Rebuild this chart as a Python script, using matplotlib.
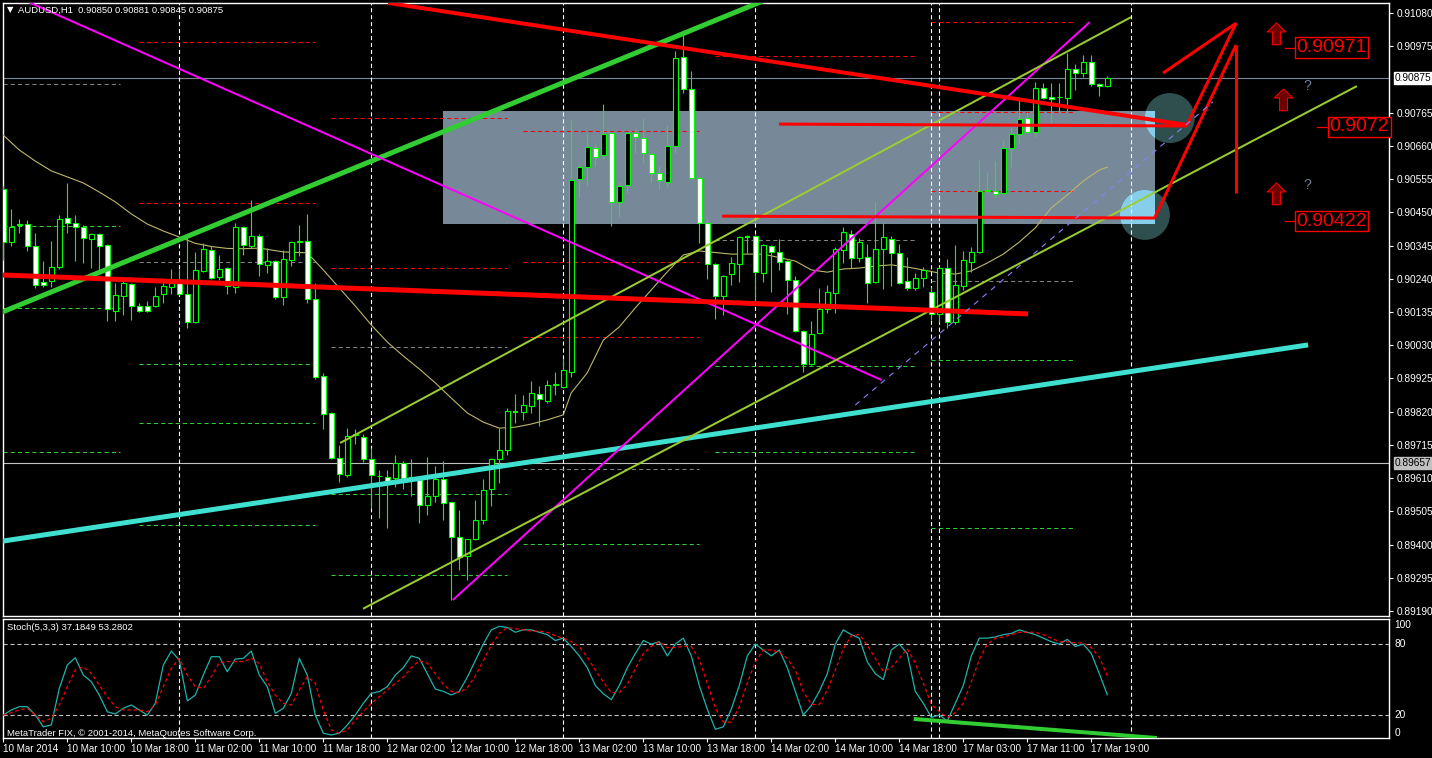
import matplotlib
matplotlib.use('Agg')
import matplotlib.pyplot as plt
from matplotlib.patches import Rectangle, Ellipse
from matplotlib.collections import LineCollection
from matplotlib.path import Path
from matplotlib import font_manager as fm
import numpy as np

plt.rcParams['font.family'] = ['Liberation Sans', 'DejaVu Sans']
plt.rcParams['lines.scale_dashes'] = False

W, H, DPI = 1432, 758, 100

# ---------------- data ----------------
opens = [0.90524, 0.90356, 0.90410, 0.90413, 0.90344, 0.90230, 0.90233, 0.90277, 0.90432, 0.90416,
         0.90404, 0.90366, 0.90382, 0.90347, 0.90138, 0.90186, 0.90224, 0.90154, 0.90154, 0.90154,
         0.90192, 0.90214, 0.90233, 0.90192, 0.90104, 0.90265, 0.90331, 0.90246, 0.90274, 0.90214,
         0.90404, 0.90344, 0.90375, 0.90284, 0.90296, 0.90183, 0.90299, 0.90356, 0.90359, 0.90176,
         0.89933, 0.89816, 0.89674, 0.89620, 0.89746, 0.89740, 0.89670, 0.89618, 0.89614, 0.89610,
         0.89658, 0.89610, 0.89604, 0.89525, 0.89554, 0.89607, 0.89535, 0.89424, 0.89364, 0.89418,
         0.89478, 0.89576, 0.89670, 0.89699, 0.89819, 0.89819, 0.89838, 0.89876, 0.89854, 0.89904,
         0.89898, 0.89946, 0.90555, 0.90593, 0.90653, 0.90631, 0.90701, 0.90483, 0.90536, 0.90701,
         0.90685, 0.90634, 0.90574, 0.90546, 0.90660, 0.90941, 0.90840, 0.90559, 0.90416, 0.90287,
         0.90186, 0.90255, 0.90287, 0.90373, 0.90375, 0.90258, 0.90344, 0.90325, 0.90296, 0.90236,
         0.90075, 0.89971, 0.90069, 0.90145, 0.90195, 0.90331, 0.90382, 0.90306, 0.90309, 0.90230,
         0.90334, 0.90366, 0.90321, 0.90233, 0.90211, 0.90243, 0.90198, 0.90129, 0.90274, 0.90104,
         0.90217, 0.90293, 0.90325, 0.90517, 0.90517, 0.90511, 0.90653, 0.90698, 0.90748, 0.90704,
         0.90843, 0.90814, 0.90813, 0.90811, 0.90903, 0.90890, 0.90925, 0.90856, 0.90850]
highs = [0.90533, 0.90461, 0.90429, 0.90426, 0.90385, 0.90296, 0.90359, 0.90442, 0.90543, 0.90442,
         0.90410, 0.90384, 0.90385, 0.90350, 0.90227, 0.90246, 0.90227, 0.90164, 0.90170, 0.90214,
         0.90239, 0.90271, 0.90271, 0.90369, 0.90325, 0.90353, 0.90344, 0.90315, 0.90277, 0.90416,
         0.90407, 0.90489, 0.90382, 0.90337, 0.90299, 0.90331, 0.90359, 0.90410, 0.90445, 0.90227,
         0.89942, 0.89820, 0.89715, 0.89769, 0.89765, 0.89750, 0.89705, 0.89636, 0.89636, 0.89683,
         0.89664, 0.89670, 0.89617, 0.89677, 0.89648, 0.89664, 0.89535, 0.89509, 0.89418, 0.89541,
         0.89607, 0.89672, 0.89768, 0.89832, 0.89876, 0.89873, 0.89917, 0.89901, 0.89920, 0.89946,
         0.89987, 0.90742, 0.90606, 0.90701, 0.90666, 0.90792, 0.90703, 0.90546, 0.90703, 0.90713,
         0.90748, 0.90636, 0.90596, 0.90726, 0.90960, 0.91010, 0.90897, 0.90562, 0.90432, 0.90290,
         0.90252, 0.90309, 0.90375, 0.90378, 0.90378, 0.90350, 0.90347, 0.90366, 0.90299, 0.90249,
         0.90078, 0.90107, 0.90211, 0.90220, 0.90340, 0.90404, 0.90394, 0.90369, 0.90350, 0.90483,
         0.90420, 0.90375, 0.90350, 0.90309, 0.90258, 0.90277, 0.90214, 0.90277, 0.90303, 0.90347,
         0.90328, 0.90340, 0.90615, 0.90577, 0.90612, 0.90679, 0.90720, 0.90811, 0.90767, 0.90862,
         0.90859, 0.90859, 0.90859, 0.90954, 0.90919, 0.90947, 0.90947, 0.90859, 0.90881]
lows = [0.90299, 0.90344, 0.90385, 0.90328, 0.90211, 0.90214, 0.90214, 0.90270, 0.90385, 0.90296,
        0.90290, 0.90274, 0.90268, 0.90107, 0.90107, 0.90126, 0.90110, 0.90135, 0.90135, 0.90151,
        0.90164, 0.90192, 0.90190, 0.90085, 0.90100, 0.90262, 0.90239, 0.90236, 0.90192, 0.90195,
        0.90315, 0.90337, 0.90249, 0.90258, 0.90176, 0.90157, 0.90280, 0.90312, 0.90164, 0.89923,
        0.89765, 0.89670, 0.89598, 0.89614, 0.89718, 0.89661, 0.89516, 0.89484, 0.89452, 0.89582,
        0.89576, 0.89554, 0.89468, 0.89494, 0.89535, 0.89478, 0.89225, 0.89320, 0.89288, 0.89415,
        0.89465, 0.89522, 0.89595, 0.89683, 0.89784, 0.89794, 0.89816, 0.89775, 0.89848, 0.89873,
        0.89895, 0.89930, 0.90499, 0.90533, 0.90596, 0.90619, 0.90407, 0.90435, 0.90511, 0.90638,
        0.90606, 0.90546, 0.90524, 0.90530, 0.90638, 0.90827, 0.90555, 0.90353, 0.90239, 0.90113,
        0.90126, 0.90220, 0.90230, 0.90321, 0.90167, 0.90230, 0.90198, 0.90268, 0.90129, 0.90072,
        0.89946, 0.89968, 0.90066, 0.90132, 0.90132, 0.90290, 0.90274, 0.90293, 0.90164, 0.90227,
        0.90208, 0.90217, 0.90224, 0.90205, 0.90205, 0.90214, 0.90110, 0.90104, 0.90085, 0.90097,
        0.90205, 0.90261, 0.90322, 0.90511, 0.90495, 0.90508, 0.90593, 0.90669, 0.90701, 0.90688,
        0.90808, 0.90732, 0.90767, 0.90767, 0.90837, 0.90878, 0.90849, 0.90818, 0.90845]
closes = [0.90356, 0.90404, 0.90413, 0.90344, 0.90220, 0.90220, 0.90277, 0.90429, 0.90416, 0.90404,
          0.90369, 0.90382, 0.90344, 0.90145, 0.90189, 0.90227, 0.90154, 0.90138, 0.90138, 0.90186,
          0.90217, 0.90227, 0.90192, 0.90104, 0.90268, 0.90334, 0.90243, 0.90271, 0.90217, 0.90404,
          0.90347, 0.90375, 0.90287, 0.90296, 0.90183, 0.90303, 0.90356, 0.90359, 0.90176, 0.89930,
          0.89813, 0.89674, 0.89623, 0.89743, 0.89748, 0.89670, 0.89620, 0.89616, 0.89601, 0.89658,
          0.89610, 0.89612, 0.89525, 0.89554, 0.89607, 0.89532, 0.89424, 0.89361, 0.89418, 0.89478,
          0.89573, 0.89670, 0.89699, 0.89822, 0.89821, 0.89841, 0.89879, 0.89860, 0.89904, 0.89906,
          0.89952, 0.90552, 0.90593, 0.90657, 0.90625, 0.90698, 0.90483, 0.90533, 0.90701, 0.90688,
          0.90638, 0.90574, 0.90552, 0.90660, 0.90938, 0.90840, 0.90559, 0.90416, 0.90287, 0.90186,
          0.90249, 0.90290, 0.90372, 0.90374, 0.90261, 0.90347, 0.90325, 0.90293, 0.90236, 0.90075,
          0.89971, 0.90066, 0.90145, 0.90198, 0.90334, 0.90388, 0.90306, 0.90356, 0.90227, 0.90334,
          0.90372, 0.90321, 0.90227, 0.90211, 0.90243, 0.90268, 0.90129, 0.90274, 0.90104, 0.90220,
          0.90299, 0.90325, 0.90517, 0.90521, 0.90508, 0.90653, 0.90698, 0.90745, 0.90704, 0.90843,
          0.90811, 0.90808, 0.90815, 0.90903, 0.90890, 0.90925, 0.90856, 0.90849, 0.90875]

ma_bars = [0, 2, 4, 6, 8, 10, 12, 14, 16, 18, 20, 22, 24, 26, 28, 30, 32, 35, 38, 40,
           42, 44, 46, 48, 50, 52, 54, 56, 58, 60, 62, 64, 66, 68, 70, 71, 72, 73, 75, 77,
           79, 81, 83, 85, 87, 89, 91, 95, 99, 101, 103, 105, 107, 109, 111, 113, 115, 117, 119, 121,
           123, 125, 127, 129, 131, 133, 135, 137, 138]
ma_vals = [0.90694, 0.90647, 0.90612, 0.90581, 0.90562, 0.90543, 0.90514, 0.90483, 0.90445, 0.90413,
           0.90391, 0.90372, 0.90352, 0.90342, 0.90336, 0.90335, 0.90337, 0.90325, 0.90322, 0.90268,
           0.90211, 0.90154, 0.90094, 0.90040, 0.89996, 0.89955, 0.89911, 0.89863, 0.89816, 0.89787,
           0.89768, 0.89771, 0.89781, 0.89794, 0.89810, 0.89880, 0.89911, 0.89943, 0.90046, 0.90088,
           0.90148, 0.90205, 0.90262, 0.90315, 0.90328, 0.90323, 0.90318, 0.90318, 0.90296, 0.90268,
           0.90261, 0.90271, 0.90274, 0.90280, 0.90284, 0.90277, 0.90268, 0.90258, 0.90255, 0.90265,
           0.90290, 0.90318, 0.90356, 0.90401, 0.90464, 0.90505, 0.90549, 0.90584, 0.90593]

stoch_k = [20.0, 24.3, 27.1, 27.1, 20.0, 10.1, 11.6, 42.6, 62.3, 68.5,
           53.8, 48.2, 36.9, 22.8, 20.9, 25.7, 28.5, 24.3, 20.0, 29.9,
           62.3, 74.1, 66.5, 31.9, 36.9, 53.8, 69.3, 69.3, 56.6, 67.4,
           67.9, 74.1, 53.8, 44.0, 21.5, 25.7, 38.4, 67.9, 53.8, 20.0,
           4.6, 3.2, 4.6, 11.6, 20.0, 29.9, 38.4, 39.8, 44.0, 53.8,
           60, 70, 68, 55, 42, 40, 37, 40, 52, 66,
           80, 92, 95, 94, 90, 92, 92, 90, 88, 83,
           85, 78, 70, 60, 45, 38, 33, 45, 60, 72,
           83, 80, 82, 70, 80, 85, 70, 45, 25, 8,
           10, 25, 45, 70, 80, 75, 70, 75, 60, 40,
           20, 28, 40, 55, 80, 92, 88, 85, 65, 55,
           50, 75, 80, 72, 40, 30, 18, 20, 15, 30,
           45, 70, 85, 85, 86, 88, 89, 92, 90, 88,
           85, 82, 80, 84, 78, 80, 72, 55, 37.18]
stoch_d = [20, 22, 24.3, 25.7, 20, 14.4, 17.2, 28.5, 44, 58.1,
           60.9, 55.2, 45.4, 35.5, 27.1, 24.3, 24.3, 24.3, 22.8, 28.5,
           44, 59.5, 68, 53.8, 44, 42.6, 52.4, 64.3, 65.2, 65.2,
           65.2, 68, 63.7, 48.2, 36.9, 29.9, 28.5, 41.1, 52.4, 46.8,
           24.3, 7.4, 4.6, 7.4, 15.8, 22.8, 29.9, 35.5, 41.1, 46.8,
           52, 60, 66, 64, 55, 46, 40, 39, 43, 53,
           66, 79, 89, 94, 93, 92, 91, 91, 90, 87,
           85, 82, 78, 69, 58, 48, 39, 39, 46, 59,
           72, 78, 82, 77, 77, 78, 78, 67, 47, 26,
           14, 14, 27, 47, 65, 75, 75, 73, 68, 58,
           40, 29, 29, 41, 58, 76, 87, 88, 79, 68,
           57, 60, 68, 76, 64, 47, 29, 23, 18, 22,
           30, 48, 67, 80, 85, 86, 88, 90, 90, 90,
           88, 85, 82, 82, 81, 81, 77, 69, 53.28]

price_ticks = [0.91080, 0.90975, 0.90765, 0.90660, 0.90555, 0.90450, 0.90345, 0.90240,
               0.90135, 0.90030, 0.89925, 0.89820, 0.89715, 0.89610, 0.89505, 0.89400,
               0.89295, 0.89190]
time_bars = [0, 8, 16, 24, 32, 40, 48, 56, 64, 72, 80, 88, 96, 104, 112, 120, 128, 136]
time_labels = ['10 Mar 2014', '10 Mar 10:00', '10 Mar 18:00', '11 Mar 02:00', '11 Mar 10:00',
               '11 Mar 18:00', '12 Mar 02:00', '12 Mar 10:00', '12 Mar 18:00', '13 Mar 02:00',
               '13 Mar 10:00', '13 Mar 18:00', '14 Mar 02:00', '14 Mar 10:00', '14 Mar 18:00',
               '17 Mar 03:00', '17 Mar 11:00', '17 Mar 19:00']
day_separators = [22, 46, 70, 94, 116, 117, 141]
bid_price = 0.90875
hline_price = 0.89657

# daily pivot levels: (first bar, last bar, price, kind)
pivot_levels = [
    (0, 14.6, 0.90856, 'pp'), (0, 14.6, 0.90407, 's'), (0, 14.6, 0.90148, 's'), (0, 14.6, 0.89693, 's'),
    (17, 39, 0.90988, 'r'), (17, 39, 0.90480, 'r'), (17, 39, 0.90293, 'pp'),
    (17, 39, 0.89971, 's'), (17, 39, 0.89784, 's'), (17, 39, 0.89462, 's'),
    (41, 63, 0.90748, 'r'), (41, 63, 0.90274, 'r'), (41, 63, 0.90024, 'pp'),
    (41, 63, 0.89560, 's'), (41, 63, 0.89304, 's'),
    (65, 87, 0.90707, 'r'), (65, 87, 0.90293, 'r'), (65, 87, 0.90056, 'r'),
    (65, 87, 0.89639, 'pp'), (65, 87, 0.89402, 's'),
    (89, 114, 0.90944, 'r'), (89, 114, 0.90363, 'pp'), (89, 114, 0.89964, 's'), (89, 114, 0.89693, 's'),
    (116, 134, 0.91052, 'r'), (116, 134, 0.90767, 'r'), (116, 134, 0.90517, 'r'),
    (116, 134, 0.90233, 'pp'), (116, 134, 0.89983, 's'), (116, 134, 0.89452, 's'),
]

# drawn objects: (bar0, price0, bar1, price1, colour, width in px)
trend_lines = [
    (-0.41, 0.90132, 96.0, 0.91129, '#32cd32', 5),
    (-0.04, 0.89411, 163.1, 0.90031, '#40e0d0', 5),
    (2.6, 0.91121, 109.8, 0.89920, '#ff00ff', 2),
    (56.2, 0.89225, 135.8, 0.91051, '#ff00ff', 2),
    (42.1, 0.89721, 140.97, 0.91067, '#9acd32', 2),
    (44.96, 0.89197, 169.2, 0.90849, '#9acd32', 2),
    (48.1, 0.91112, 147.96, 0.90726, '#ff0000', 4),
    (96.96, 0.90729, 147.96, 0.90723, '#ff0000', 3),
    (89.85, 0.90438, 143.96, 0.90432, '#ff0000', 3),
    (-0.04, 0.90252, 128.1, 0.90129, '#ff0000', 5),
    (144.96, 0.90890, 154.1, 0.91048, '#ff0000', 3),
    (154.1, 0.91048, 147.96, 0.90726, '#ff0000', 3),
    (143.96, 0.90435, 154.1, 0.90979, '#ff0000', 3),
    (154.1, 0.90979, 154.1, 0.90511, '#ff0000', 3),
]
dashed_trend = (106.5, 0.89841, 151.2, 0.90799)
zone = (54.96, 143.96, 0.90413, 0.90770)          # bar0, bar1, low, high
circles = [(145.8, 0.90748), (142.7, 0.90442)]      # centres (bar, price)
arrows = [(159.1, 0.91004), (160.0, 0.90796), (159.1, 0.90498)]
price_labels = [(161.6, 0.90971, '0.90971', 160.2), (165.8, 0.90720, '0.9072', 164.2),
                (161.6, 0.90422, '0.90422', 160.2)]
question_marks = [(163.0, 0.90849), (163.0, 0.90536)]
stoch_trend = (113.8, 16.7, 144.2, 0.6)

# ---------------- figure ----------------
PX = 72.0 / DPI
fig = plt.figure(figsize=(W / DPI, H / DPI), dpi=DPI, facecolor='black')


def fx(px):
    return px / W


def fy(py):
    return 1 - py / H


try:
    fm.findfont(fm.FontProperties(family='Liberation Sans Narrow'), fallback_to_default=False)
    label_family, label_size = ['Liberation Sans Narrow'], 17
except ValueError:
    label_family, label_size = ['Liberation Sans'], 14

ax = fig.add_axes([fx(2.7), fy(616), (1389.3 - 2.7) / W, (616 - 2.7) / H])
ax2 = fig.add_axes([fx(2.7), fy(738), (1389.3 - 2.7) / W, (738 - 619) / H])
for a in (ax, ax2):
    a.set_facecolor('black')
    a.set_xlim(-0.075, 173.25)
    for s in a.spines.values():
        s.set_color('white')
        s.set_linewidth(1)
ax.set_ylim(0.891742, 0.911126)
ax2.set_ylim(0.6, 101.2)

# right price axis
ax.yaxis.tick_right()
ax.set_yticks(price_ticks)
ax.set_yticklabels([f'{p:.5f}' for p in price_ticks])
ax.tick_params(axis='y', colors='white', length=3, width=0.8, pad=2, labelsize=7.3)
ax.set_xticks([])
ax.annotate(f'{bid_price:.5f}', xy=(1, bid_price), xycoords=('axes fraction', 'data'),
            xytext=(4.0, 0), textcoords='offset points', va='center', ha='left', fontsize=7.3,
            color='black', bbox=dict(boxstyle='square,pad=0.12', fc='white', ec='white'),
            annotation_clip=False)
ax.annotate(f'{hline_price:.5f}', xy=(1, hline_price), xycoords=('axes fraction', 'data'),
            xytext=(4.0, 0), textcoords='offset points', va='center', ha='left', fontsize=7.3,
            color='black', bbox=dict(boxstyle='square,pad=0.12', fc='#c0c0c0', ec='#c0c0c0'),
            annotation_clip=False)

# zone + circles
b0, b1, lo, hi = zone
ax.add_patch(Rectangle((b0, lo), b1 - b0, hi - lo, facecolor='#778899', edgecolor='none', zorder=1))
circ_w = 50 / 8.0
circ_h = 50 * (0.911126 - 0.891742) / (616 - 2.7)
for cx, cy in circles:
    ax.add_patch(Ellipse((cx, cy), circ_w, circ_h, facecolor='#2f4f4f', edgecolor='none', zorder=1.2))
    clip = Rectangle((b0, lo), b1 - b0, hi - lo, transform=ax.transData)
    e2 = Ellipse((cx, cy), circ_w, circ_h, facecolor='#87ceeb', edgecolor='none', zorder=1.3)
    ax.add_patch(e2)
    e2.set_clip_path(clip)

# horizontal lines
ax.axhline(bid_price, color='#778899', lw=0.8, zorder=2)
ax.axhline(hline_price, color='#c0c0c0', lw=0.8, zorder=2)

# day separators
for d in day_separators:
    for a in (ax, ax2):
        a.axvline(d, color='white', lw=0.8, ls=(0, (3, 2)), zorder=2)

# pivots
pcol = {'r': '#ff0000', 'pp': '#808080', 's': '#32cd32'}
for x0, x1, p, k in pivot_levels:
    ax.plot([x0, x1], [p, p], color=pcol[k], lw=0.75, ls=(0, (3, 2.2)), zorder=2.5)

# moving average
ax.plot(ma_bars, ma_vals, color='#bdb76b', lw=0.8, zorder=3)

# candles
xs = np.arange(len(opens))
wicks = [[(x, l), (x, h)] for x, l, h in zip(xs, lows, highs)]
ax.add_collection(LineCollection(wicks, colors='#00ff00', linewidths=0.8, zorder=4))
for x, o, c in zip(xs, opens, closes):
    if abs(c - o) < 0.00002:
        ax.plot([x - 0.32, x + 0.32], [(o + c) / 2] * 2, color='#00ff00', lw=1.5, zorder=5,
                solid_capstyle='butt')
    else:
        fc = 'black' if c > o else 'white'
        ax.add_patch(Rectangle((x - 0.3, min(o, c)), 0.6, abs(c - o), facecolor=fc,
                               edgecolor='#00ff00', lw=0.8, zorder=5))

# trend lines
for x0, p0, x1, p1, col, wpx in trend_lines:
    ax.plot([x0, x1], [p0, p1], color=col, lw=wpx * PX, zorder=6, solid_capstyle='butt')
ax.plot([dashed_trend[0], dashed_trend[2]], [dashed_trend[1], dashed_trend[3]], color='#8a80ff',
        lw=0.8, ls=(0, (4, 4)), zorder=6)

# arrows
arrow_path = Path([(0, 1), (0.64, 0.38), (0.27, 0.38), (0.27, -0.5), (-0.27, -0.5), (-0.27, 0.38),
                   (-0.64, 0.38), (0, 1)], closed=True)
for bx, bp in arrows:
    ax.plot([bx], [bp], marker=arrow_path, ms=21, mfc='#6e0000', mec='#ff0000', mew=0.7,
            zorder=7, ls='none')

for bx, bp, s, tx in price_labels:
    ax.plot([tx, tx + 1.1], [bp, bp], color='#ff0000', lw=0.9, zorder=7)
    ax.text(bx, bp, s, color='#ff0000', fontsize=label_size, family=label_family, va='center',
            ha='left', zorder=7,
            bbox=dict(boxstyle='square,pad=0.08', fc='black', ec='#ff0000', lw=1))
for bx, bp in question_marks:
    ax.text(bx, bp, '?', color='#708090', fontsize=10, ha='center', va='center', zorder=7)

# stochastic
ax2.axhline(80, color='#c0c0c0', lw=0.8, ls=(0, (3, 2)), zorder=2)
ax2.axhline(20, color='#c0c0c0', lw=0.8, ls=(0, (3, 2)), zorder=2)
ax2.plot(xs, stoch_k, color='#20b2aa', lw=0.9, zorder=4)
ax2.plot(xs, stoch_d, color='#ff0000', lw=0.9, ls=(0, (2.5, 2)), zorder=4)
ax2.plot([stoch_trend[0], stoch_trend[2]], [stoch_trend[1], stoch_trend[3]], color='#32cd32',
         lw=4 * PX, zorder=5, solid_capstyle='butt')
ax2.set_yticks([])
for val, lbl in [(96.0, '100'), (80, '80'), (20, '20'), (4.8, '0')]:
    ax2.annotate(lbl, xy=(1, val), xycoords=('axes fraction', 'data'), xytext=(3.5, 0),
                 textcoords='offset points', va='center', ha='left', fontsize=7.3, color='white',
                 annotation_clip=False)

ax2.set_xticks(time_bars)
ax2.set_xticklabels(time_labels, ha='left')
ax2.tick_params(axis='x', colors='white', length=3, width=0.8, pad=1.5, labelsize=7.1)

# header texts
fig.text(fx(7), fy(10), '\u25bc', color='white', fontsize=6, va='center', ha='left',
         family=['DejaVu Sans'])
fig.text(fx(18), fy(10), 'AUDUSD,H1  0.90850 0.90881 0.90845 0.90875', color='white',
         fontsize=6.8, va='center', ha='left')
fig.text(fx(7), fy(627), 'Stoch(5,3,3) 37.1849 53.2802', color='white', fontsize=6.8,
         va='center', ha='left')
fig.text(fx(7), fy(733), 'MetaTrader FIX, \u00a9 2001-2014, MetaQuotes Software Corp.',
         color='white', fontsize=6.8, va='center', ha='left')

fig.savefig('out.png', dpi=DPI, facecolor='black')
